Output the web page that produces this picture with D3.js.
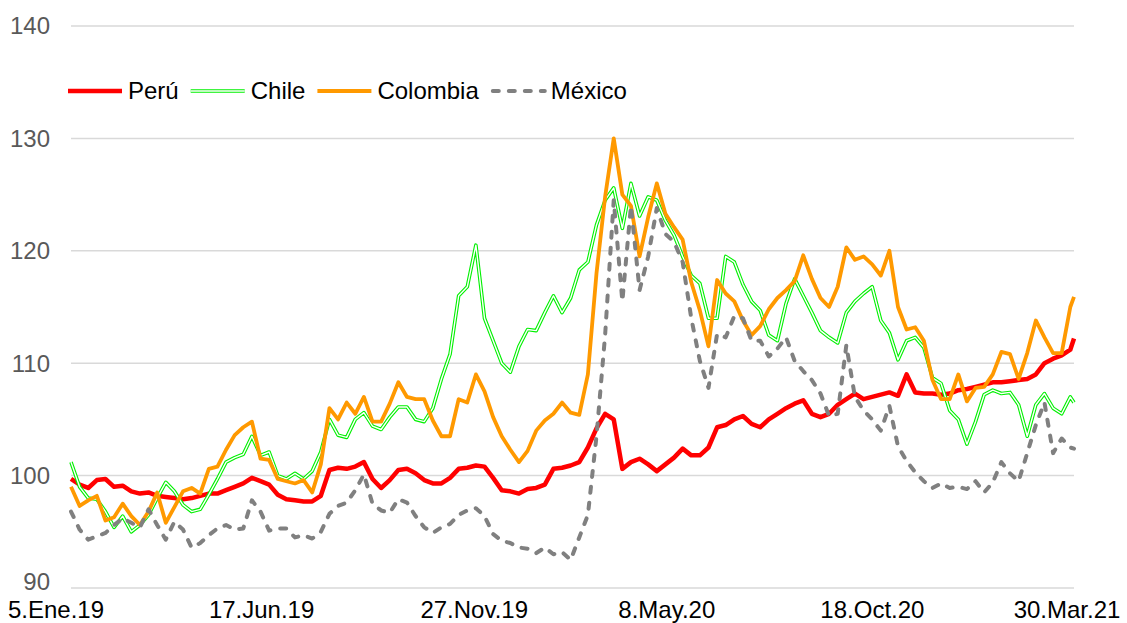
<!DOCTYPE html>
<html><head><meta charset="utf-8">
<script src="https://cdn.jsdelivr.net/npm/d3@7"></script>
<style>html,body{margin:0;padding:0;background:#fff;} svg{display:block;font-family:Arial,"Liberation Sans",sans-serif;}</style>
</head><body><svg id="c" width="1127" height="623"></svg>
<script>
// ---- data ----
const startDate = "2019-01-05";
const endDate = "2021-03-30";
const tickDates = ["2019-01-05","2019-06-17","2019-11-27","2020-05-08","2020-10-18","2021-03-30"];
const tickLabels = ["5.Ene.19","17.Jun.19","27.Nov.19","8.May.20","18.Oct.20","30.Mar.21"];
const yTicks = [90,100,110,120,130,140];
const seriesNames = ["Perú","Chile","Colombia","México"];

const peru = [99.7,99.2,98.9,99.6,99.7,99.0,99.1,98.6,98.4,98.5,98.2,98.1,98.0,97.9,98.0,98.2,98.4,98.4,98.7,99.0,
99.3,99.8,99.5,99.2,98.3,97.9,97.8,97.7,97.7,98.2,100.5,100.7,100.6,100.8,101.2,99.7,98.9,99.6,100.5,100.6,
100.2,99.6,99.3,99.3,99.8,100.6,100.7,100.9,100.8,99.8,98.7,98.6,98.4,98.8,98.9,99.2,100.6,100.7,100.9,101.2,
102.5,104.2,105.5,105.0,100.6,101.2,101.5,101.0,100.4,101.0,101.6,102.4,101.8,101.8,102.5,104.3,104.5,105.0,105.3,104.6,
104.3,105.0,105.5,106.0,106.4,106.7,105.5,105.2,105.5,106.3,106.8,107.3,106.8,107.0,107.2,107.4,107.1,109.0,107.4,107.3,
107.3,107.2,107.3,107.6,107.7,107.9,108.1,108.3,108.3,108.4,108.5,108.6,109.0,110.0,110.4,110.7,111.2,112.2];

const chile = [101.2,99.0,98.0,97.9,96.8,95.4,96.4,95.0,95.6,96.5,98.0,99.4,98.6,97.4,96.8,97.0,98.3,99.7,101.2,101.6,
101.9,103.5,101.8,102.1,100.0,99.7,100.2,99.7,100.4,102.1,105.0,103.6,103.4,105.0,105.6,104.4,104.1,105.2,106.1,106.1,
105.0,104.8,106.0,108.6,110.8,116.0,116.8,120.5,114.0,112.0,110.0,109.2,111.5,113.0,112.9,114.5,116.0,114.5,115.8,118.3,
119.0,122.3,124.5,125.6,122.0,126.0,123.1,124.8,124.5,122.7,121.4,119.5,117.8,117.1,114.0,114.0,119.5,119.0,117.0,115.5,
114.7,112.5,112.0,115.3,117.5,116.0,114.5,112.9,112.3,111.8,114.5,115.5,116.2,116.8,113.8,112.7,110.3,112.0,112.3,111.4,
108.7,108.2,105.8,105.0,102.8,104.8,107.2,107.6,107.3,107.4,106.3,103.5,106.3,107.3,106.0,105.5,107.0,106.5];

const colombia = [99.0,97.3,97.8,98.2,96.0,96.3,97.5,96.4,95.6,96.8,98.5,95.8,97.2,98.6,98.9,98.4,100.6,100.8,102.3,103.6,
104.3,104.8,101.5,101.4,99.7,99.5,99.3,99.6,98.5,101.0,106.0,105.0,106.5,105.5,107.0,104.8,104.8,106.4,108.3,107.0,
106.8,106.8,104.9,103.5,103.5,106.8,106.5,109.0,107.5,105.2,103.5,102.3,101.2,102.2,104.0,104.9,105.5,106.5,105.6,105.4,
109.0,118.0,124.8,130.0,125.0,124.0,119.5,123.0,126.0,123.3,122.1,121.0,117.2,114.7,111.5,117.4,116.2,115.5,113.8,112.5,
113.3,114.8,115.8,116.5,117.3,119.6,117.5,115.8,115.0,116.8,120.3,119.2,119.5,118.8,117.8,120.0,115.0,113.0,113.2,112.0,
108.5,106.8,106.8,109.0,106.6,107.8,107.9,109.0,111.0,110.8,108.6,110.9,113.8,112.3,110.9,110.9,115.0,115.9];

const mexico = [96.8,95.2,94.3,94.6,94.9,95.6,96.2,95.8,95.4,97.0,95.6,94.3,95.9,95.2,93.6,94.0,94.7,95.3,95.6,95.2,
95.3,97.8,96.8,95.1,95.3,95.3,94.5,94.7,94.4,95.0,96.6,97.3,97.6,98.7,100.1,97.5,96.9,96.7,97.9,97.6,
96.4,95.4,94.9,95.4,95.7,96.5,96.9,97.1,96.4,94.8,94.2,94.0,93.6,93.5,93.1,93.6,93.0,93.2,92.5,94.5,
96.5,103.5,112.5,124.5,115.5,124.0,116.5,119.5,123.8,121.5,120.8,119.0,114.0,110.2,107.8,112.6,112.3,114.2,114.0,112.0,
112.0,110.6,111.3,112.3,110.2,109.3,108.5,107.3,105.3,105.5,111.6,107.0,105.8,105.0,104.0,106.2,102.6,101.3,100.3,99.5,
98.9,99.3,98.9,99.0,98.8,99.5,98.5,99.4,101.2,100.2,99.5,102.0,104.5,106.5,102.0,103.3,102.5,102.4];

(function () {
const parse = d3.timeParse("%Y-%m-%d");
const t0 = parse(startDate), t1 = parse(endDate);
const dates = d3.range(peru.length - 1).map(i => d3.timeDay.offset(t0, 7 * i));
dates.push(t1);

const svg = d3.select("#c");
const mLeft = 71, mRight = 1074, mTop = 26, mBottom = 588;
const x = d3.scaleTime().domain([t0, t1]).range([mLeft, mRight]);
const y = d3.scaleLinear().domain([90, 140]).range([mBottom, mTop]);

// gridlines
svg.append("g").selectAll("line").data(yTicks).join("line")
  .attr("x1", mLeft).attr("x2", mRight)
  .attr("y1", d => y(d)).attr("y2", d => y(d))
  .attr("stroke", "#d9d9d9").attr("stroke-width", 1.5);

// y labels
svg.append("g").selectAll("text").data(yTicks).join("text")
  .attr("x", 50).attr("y", d => y(d) - (d === 90 ? 6 : 0)).attr("dy", "0.35em")
  .attr("text-anchor", "end").attr("font-size", 24).attr("fill", "#595959")
  .text(d => d);

// x labels
const xLabelShift = [-15, -10, 2, -6, -1, -7];
svg.append("g").selectAll("text").data(tickDates).join("text")
  .attr("x", (d, i) => x(parse(d)) + xLabelShift[i]).attr("y", 618)
  .attr("text-anchor", "middle").attr("font-size", 24).attr("fill", "#000")
  .text((d, i) => tickLabels[i]);

const line = d3.line().x((d, i) => x(dates[i])).y(d => y(d));

const styles = [
  {data: peru, color: "#ff0000", width: 4.5},
  {data: chile, color: "#00f000", width: 3.6, inner: 1.4},
  {data: colombia, color: "#ff9900", width: 3.8},
  {data: mexico, color: "#808080", width: 4, dash: "6,10"}
];

const plot = svg.append("g");
styles.forEach(s => {
  const p = plot.append("path").datum(s.data).attr("d", line)
    .attr("fill", "none").attr("stroke", s.color).attr("stroke-width", s.width)
    .attr("stroke-linejoin", "round");
  if (s.dash) p.attr("stroke-dasharray", s.dash).attr("stroke-linecap", "round");
  if (s.inner) plot.append("path").datum(s.data).attr("d", line)
    .attr("fill", "none").attr("stroke", "#fff").attr("stroke-width", s.inner)
    .attr("stroke-linejoin", "round");
});

// legend
const lg = svg.append("g").attr("transform", "translate(0,91)");
let lx = 68;
styles.forEach((s, i) => {
  const l = lg.append("line").attr("x1", lx).attr("x2", lx + 54).attr("y1", 0).attr("y2", 0)
    .attr("stroke", s.color).attr("stroke-width", s.width);
  if (s.dash) l.attr("stroke-dasharray", s.dash).attr("stroke-linecap", "round").attr("x1", lx + 2);
  if (s.inner) lg.append("line").attr("x1", lx).attr("x2", lx + 54).attr("y1", 0).attr("y2", 0)
    .attr("stroke", "#fff").attr("stroke-width", s.inner);
  const t = lg.append("text").attr("x", lx + 60).attr("y", 0).attr("dy", "0.35em")
    .attr("font-size", 24).attr("fill", "#000").text(seriesNames[i]);
  lx = lx + 60 + t.node().getComputedTextLength() + 12;
});
})();
</script></body></html>
